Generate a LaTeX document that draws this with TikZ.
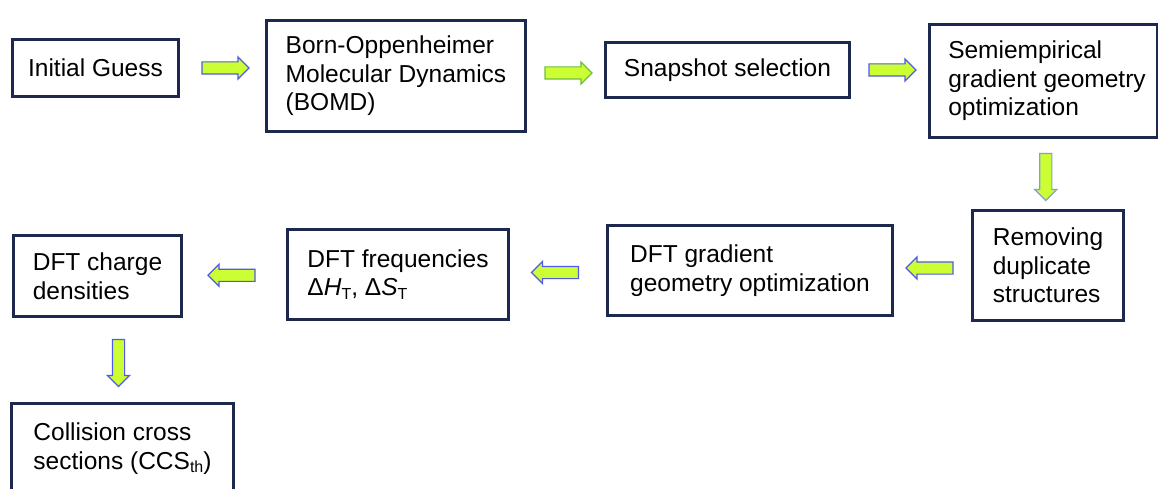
\documentclass[tikz,border=0pt]{standalone}
\usepackage{fontspec}
\setmainfont{Liberation Sans}
\usetikzlibrary{shapes.arrows,calc}

\definecolor{boxnavy}{RGB}{28,40,78}
\definecolor{limefill}{RGB}{204,255,51}
\definecolor{arrowblue}{RGB}{80,90,230}
\definecolor{arrowgreen}{RGB}{110,190,60}
\definecolor{arrowsteel}{RGB}{130,160,205}

\newcommand{\lowidx}[1]{\raisebox{-0.3ex}{\fontsize{16}{16}\selectfont #1}}

\tikzset{
  stagebox/.style={draw=boxnavy, line width=3pt, fill=white, align=left,
    anchor=north west, inner sep=0pt,
    font=\fontsize{24.5}{28.5}\selectfont},
  blockarrow/.style={single arrow, fill=limefill, draw=arrowblue, line width=1.2pt,
    minimum height=47pt, minimum width=21pt, single arrow head extend=5pt,
    single arrow tip angle=90, inner sep=5.5pt, text width=0pt},
  toright/.style={blockarrow, shape border rotate=0},
  toleft/.style={blockarrow, shape border rotate=180},
  todown/.style={blockarrow, shape border rotate=270}
}

\begin{document}
\begin{tikzpicture}[x=1pt, y=-1pt]
  \useasboundingbox (0,0) rectangle (1158,489);

  % first row of stages
  \node[stagebox, minimum width=166pt, minimum height=57pt] (ig) at (11,38) {Initial Guess};
  \node[stagebox, minimum width=259pt, minimum height=111pt] (bomd) at (265,19)
    {Born-Oppenheimer\\Molecular Dynamics\\(BOMD)};
  \node[stagebox, minimum width=244pt, minimum height=55pt] (snap) at (604,41) {Snapshot selection};
  \node[stagebox, minimum width=228pt, minimum height=113pt] (semi) at (928,23)
    {\hspace*{7pt}Semiempirical\\\hspace*{7pt}gradient geometry\\\hspace*{7pt}optimization};

  % second row of stages
  \node[stagebox, minimum width=151pt, minimum height=110pt] (rem) at (971,209)
    {Removing\\duplicate\\structures};
  \node[stagebox, minimum width=285pt, minimum height=90pt] (dgo) at (606,224)
    {DFT gradient\\geometry optimization};
  \node[stagebox, minimum width=221pt, minimum height=90pt] (freq) at (286,228)
    {DFT frequencies\\Δ\textit{H}\lowidx{T}, Δ\textit{S}\lowidx{T}};
  \node[stagebox, minimum width=168pt, minimum height=81pt] (charge) at (12,234)
    {DFT charge\\densities};

  % final stage
  \node[stagebox, minimum width=222pt, minimum height=90pt] (ccs) at (10,402)
    {Collision cross\\sections (CCS\lowidx{th})};

  % block arrows between the stages
  \node[toright] (a1) at ($(ig.east)!0.5!(bomd.west |- ig.east)$) {};
  \node[toright, draw=arrowgreen] (a2) at ($(bomd.east)!0.5!(snap.west)$) {};
  \node[toright] (a3) at ($(snap.east)!0.5!(semi.west |- snap.east)$) {};
  \node[todown, draw=arrowsteel] (a4) at ($(semi.south)!0.5!(rem.north)$) {};
  \node[toleft] (a5) at ($(rem.west)!0.5!(dgo.east)$) {};
  \node[toleft] (a6) at ($(dgo.west)!0.5!(freq.east)$) {};
  \node[toleft] (a7) at ($(freq.west)!0.5!(charge.east)$) {};
  \node[todown, xshift=-4pt] (a8) at ($(charge.south -| ccs.north)!0.5!(ccs.north)$) {};
\end{tikzpicture}
\end{document}
